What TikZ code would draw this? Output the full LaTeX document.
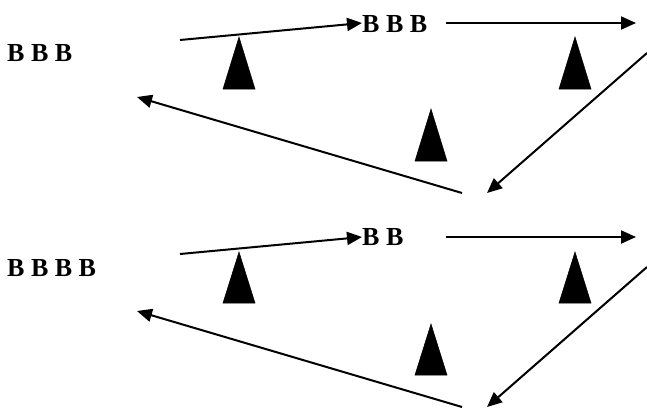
\documentclass[tikz,border=0pt]{standalone}
\usepackage{fontspec}
\setmainfont{Liberation Serif}
\usetikzlibrary{arrows.meta}
\tikzset{
  lbl/.style={inner sep=0pt, anchor=base west, font=\fontsize{26}{30}\selectfont\bfseries},
  conn/.style={line width=2pt, -{Triangle[length=15pt,width=13pt]}},
  wedge/.style={fill=black, draw=black, line width=0.5pt, line join=miter}
}
\begin{document}
\begin{tikzpicture}[x=1pt,y=-1pt]
\useasboundingbox (0,0) rectangle (647,407);
% ---------- top group ----------
\node[lbl] (l1) at (7,61) {B B B};
\node[lbl] (m1) at (362,32) {B B B};
\coordinate (a1s) at (180,40);
\coordinate (a2s) at (446,23);
\coordinate (a2e) at (636,23);
\coordinate (a3s) at (647,53);
\coordinate (a3e) at (487,193);
\coordinate (a4s) at (462,193);
\coordinate (a4e) at (137,97);
\draw[conn] (a1s) -- (m1.west |- 0,23);
\draw[conn] (a2s) -- (a2e);
\draw[conn] (a3s) -- (a3e);
\draw[conn] (a4s) -- (a4e);
\fill[wedge] (239,37) -- (255,89) -- (223,89) -- cycle;
\fill[wedge] (575,37) -- (591,89) -- (559,89) -- cycle;
\fill[wedge] (431,109) -- (447,161) -- (415,161) -- cycle;
% ---------- bottom group ----------
\node[lbl] (l2) at (7,276) {B B B B};
\node[lbl] (m2) at (362,245) {B B};
\coordinate (b1s) at (180,254);
\coordinate (b2s) at (446,237);
\coordinate (b2e) at (636,237);
\coordinate (b3s) at (647,267);
\coordinate (b3e) at (487,407);
\coordinate (b4s) at (462,407);
\coordinate (b4e) at (137,311);
\draw[conn] (b1s) -- (m2.west |- 0,237);
\draw[conn] (b2s) -- (b2e);
\draw[conn] (b3s) -- (b3e);
\draw[conn] (b4s) -- (b4e);
\fill[wedge] (239,252) -- (255,303) -- (223,303) -- cycle;
\fill[wedge] (575,252) -- (591,303) -- (559,303) -- cycle;
\fill[wedge] (431,324) -- (447,375) -- (415,375) -- cycle;
\end{tikzpicture}
\end{document}
